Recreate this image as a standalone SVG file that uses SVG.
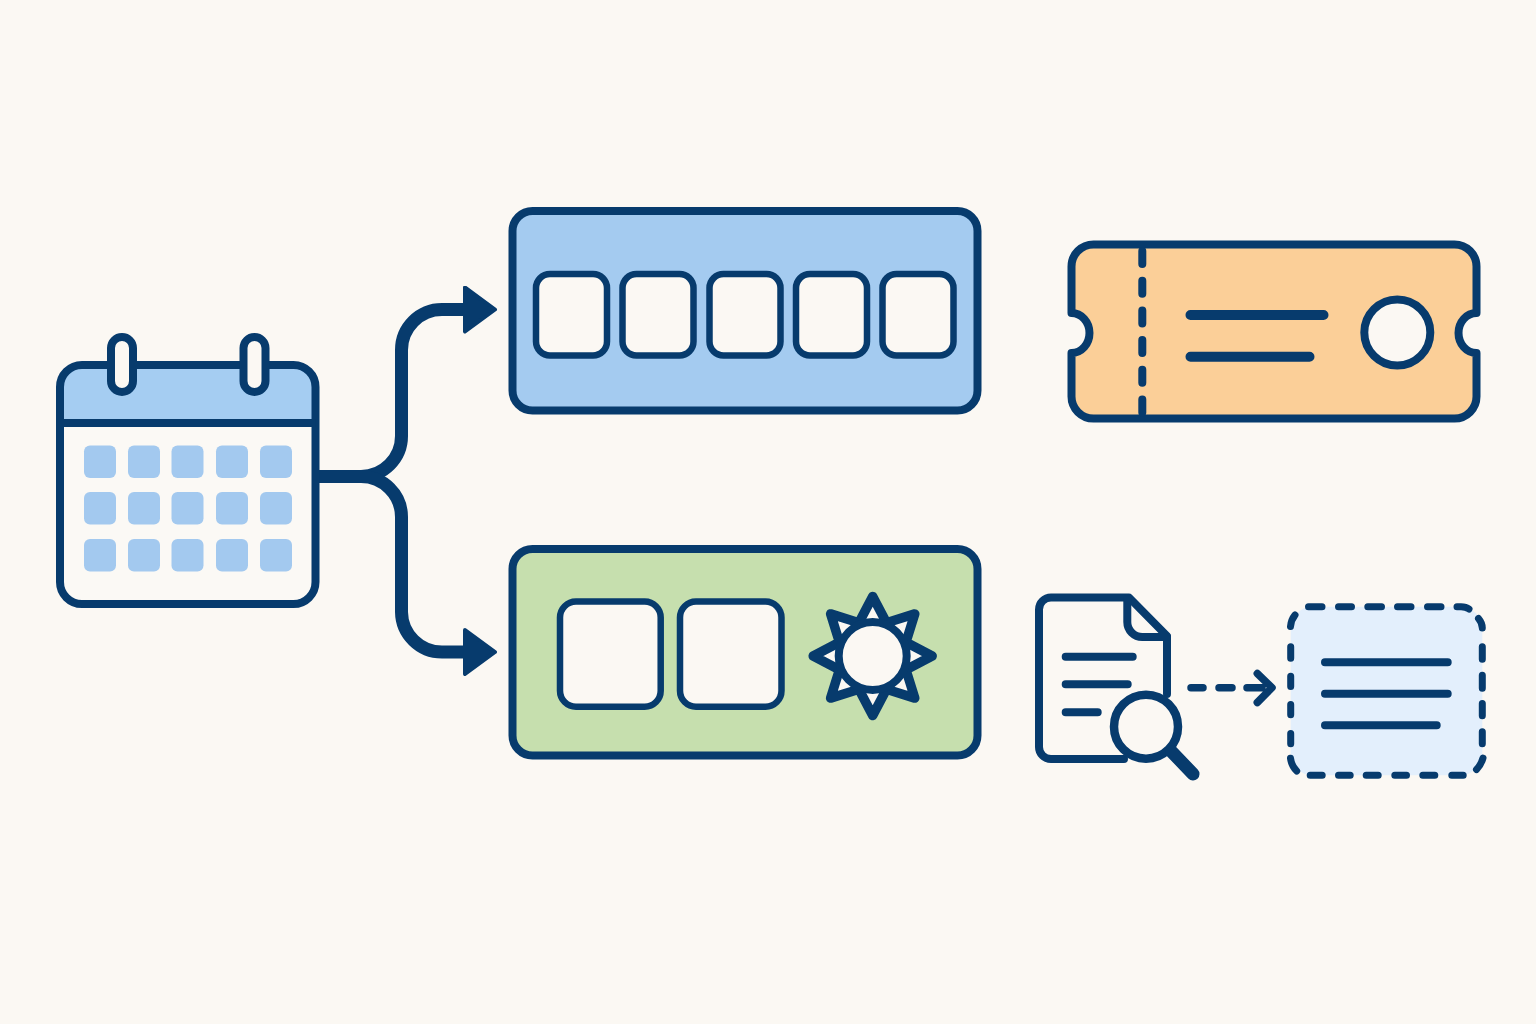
<svg xmlns="http://www.w3.org/2000/svg" width="1536" height="1024" viewBox="0 0 1536 1024">
<style>
.o{stroke:#073b6d;stroke-linecap:round;stroke-linejoin:round;fill:none}
.s{stroke:#073b6d;stroke-width:6.5;fill:#fbf8f3}
.b{stroke:#073b6d;stroke-width:8}
.c{fill:#a3c9ef}
</style>
<defs>
<marker id="head" markerUnits="userSpaceOnUse" markerWidth="36" markerHeight="48" viewBox="0 0 36 48" refX="0" refY="24" orient="auto">
<path d="M2 2L32 24L2 46Z" fill="#073b6d" stroke="#073b6d" stroke-width="4" stroke-linejoin="round"/>
</marker>
</defs>
<rect width="1536" height="1024" fill="#fbf8f3"/>
<g id="connectors">
<path class="o" stroke-width="13" d="M318 476.5H361A40.500 40.500 0 0 0 401.500 436V350A40.500 40.500 0 0 1 442 309.500H463" marker-end="url(#head)" style="stroke-linecap:butt"/>
<path class="o" stroke-width="13" d="M361 476.500A40.500 40.500 0 0 1 401.500 517V612A40.500 40.500 0 0 0 442 652H463" marker-end="url(#head)" style="stroke-linecap:butt"/>
<path class="o" stroke-width="7.500" d="M1191 687.700H1203M1219 687.700H1232M1247 687.700H1262M1257.300 673.500L1272 687.700L1257.300 702.500"/>
</g>
<g id="calendar">
<rect x="60" y="365" width="255.500" height="239" rx="22" fill="#fbf9f5"/>
<path d="M60 423V387A22 22 0 0 1 82 365H293.500A22 22 0 0 1 315.500 387V423Z" fill="#a5cdf2"/>
<rect class="b" x="60" y="365" width="255.500" height="239" rx="22" fill="none"/>
<path class="b" d="M60 423H315.500"/>
<rect class="b" x="111" y="337" width="22" height="55" rx="11" fill="#fbf8f3"/>
<rect class="b" x="243.500" y="337" width="22" height="55" rx="11" fill="#fbf8f3"/>
<g class="c">
<rect x="84" y="445.500" width="32" height="32.500" rx="6"/><rect x="128" y="445.500" width="32" height="32.500" rx="6"/><rect x="171.500" y="445.500" width="32" height="32.500" rx="6"/><rect x="216" y="445.500" width="32" height="32.500" rx="6"/><rect x="260" y="445.500" width="32" height="32.500" rx="6"/>
<rect x="84" y="492" width="32" height="32.500" rx="6"/><rect x="128" y="492" width="32" height="32.500" rx="6"/><rect x="171.500" y="492" width="32" height="32.500" rx="6"/><rect x="216" y="492" width="32" height="32.500" rx="6"/><rect x="260" y="492" width="32" height="32.500" rx="6"/>
<rect x="84" y="539" width="32" height="32.500" rx="6"/><rect x="128" y="539" width="32" height="32.500" rx="6"/><rect x="171.500" y="539" width="32" height="32.500" rx="6"/><rect x="216" y="539" width="32" height="32.500" rx="6"/><rect x="260" y="539" width="32" height="32.500" rx="6"/>
</g>
</g>
<g id="blue-panel">
<rect class="b" x="512.500" y="211" width="465" height="199.500" rx="20" fill="#a4cbf0"/>
<rect class="s" x="536" y="274" width="71" height="81.500" rx="14"/>
<rect class="s" x="622.500" y="274" width="71" height="81.500" rx="14"/>
<rect class="s" x="709.500" y="274" width="71" height="81.500" rx="14"/>
<rect class="s" x="796" y="274" width="71" height="81.500" rx="14"/>
<rect class="s" x="882.500" y="274" width="71" height="81.500" rx="14"/>
</g>
<g id="ticket">
<path class="o" stroke-width="8" style="fill:#fbcf98" d="M1093.500 244.500H1454.500A22 22 0 0 1 1476.500 266.500V313A18 20 0 0 0 1476.500 353V396.500A22 22 0 0 1 1454.500 418.500H1093.500A22 22 0 0 1 1071.500 396.500V353A18 20 0 0 0 1071.500 313V266.500A22 22 0 0 1 1093.500 244.500Z"/>
<path class="o" stroke-width="8" stroke-dasharray="13 16.700" d="M1142.300 251V416"/>
<path class="o" stroke-width="10" d="M1190.500 315H1323.500M1190.500 356.700H1309.500"/>
<circle cx="1397.300" cy="332.500" r="33" stroke="#073b6d" stroke-width="8" fill="#fbf8f3"/>
</g>
<g id="green-panel">
<rect class="b" x="512.500" y="549" width="465" height="206.500" rx="20" fill="#c6dfae"/>
<rect class="s" x="560" y="601.500" width="100.700" height="105.200" rx="16"/>
<rect class="s" x="680" y="601.500" width="101.500" height="105.200" rx="16"/>
<polygon class="s" style="stroke-width:9.500;stroke-linejoin:round" points="872.700,596.500 886.500,622.700 914.800,613.900 906,642.200 932.200,656 906,669.800 914.800,698.100 886.500,689.300 872.700,715.500 858.900,689.300 830.600,698.100 839.400,669.800 813.200,656 839.400,642.200 830.600,613.900 858.900,622.700"/>
<circle cx="872.700" cy="656" r="34" stroke="#073b6d" stroke-width="8" fill="#fbf8f3"/>
</g>
<g id="document">
<path class="o" stroke-width="8" d="M1167 694V636L1129 597.500H1051A12 12 0 0 0 1039 609.500V747A12 12 0 0 0 1051 759H1124"/>
<path class="o" stroke-width="8" d="M1127.300 599V622A15 15 0 0 0 1142.300 637H1167"/>
<path class="o" stroke-width="8" d="M1065.700 656.700H1132.700M1065.700 684.300H1127.700M1065.700 712.300H1097.700"/>
<circle cx="1146" cy="726.700" r="32" stroke="#073b6d" stroke-width="8.500" fill="#fbf8f3"/>
<path class="o" stroke-width="13" d="M1171.700 751.700L1193 774"/>
</g>
<g id="dashed-panel">
<rect x="1290.700" y="606.700" width="191.600" height="168.600" rx="22" fill="#e3effc"/>
<path class="o" stroke-width="7" d="M1308.500 606.700H1322M1338.500 606.700H1351.500M1367.800 606.700H1381.500M1397.500 606.700H1411M1427.500 606.700H1441M1457 606.700H1461Q1466 606.700 1469 609M1478.500 618.500Q1482.300 623 1482.300 628M1482.300 646.800V659.200M1482.300 675.200V688.200M1482.300 703.500V715.800M1482.300 731.800V743.800M1483 758Q1481 765 1476.500 769.500M1463.200 775.300H1451.800M1434.800 775.300H1422.800M1406.500 775.300H1394.800M1378.200 775.300H1366.200M1350.200 775.300H1338.500M1322.200 775.300H1310.200M1296.700 771Q1291.500 766 1290.500 758.300M1290.700 743.800V733.500M1290.700 714.800V704.500M1290.700 686.500V676.200M1290.700 658.200V646.800M1290.500 626.500Q1291 620 1295 615"/>
<path class="o" stroke-width="8" d="M1325 662.300H1447.700M1325 693.700H1447.700M1325 725.300H1436.700"/>
</g>
</svg>
